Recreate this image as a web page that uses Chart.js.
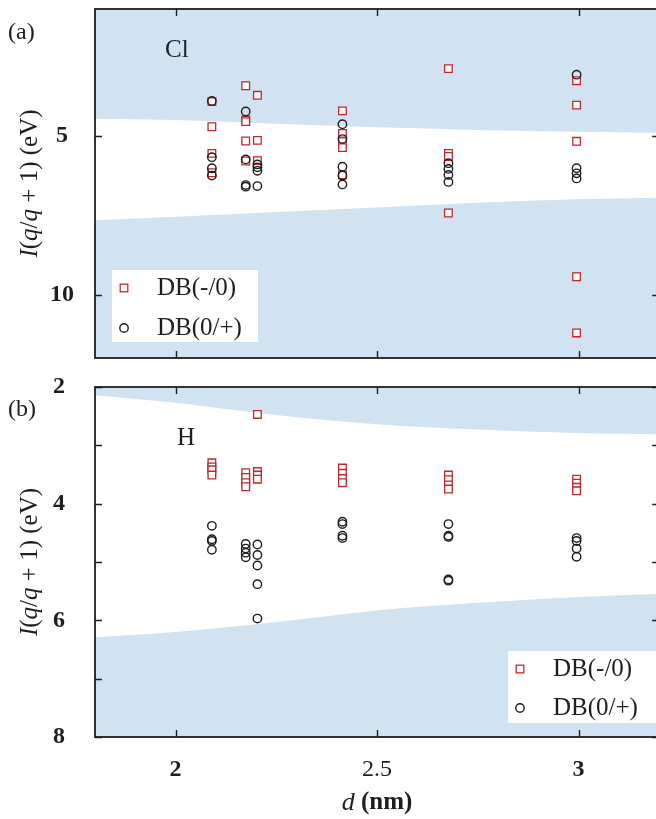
<!DOCTYPE html>
<html>
<head>
<meta charset="utf-8">
<script src="https://cdn.jsdelivr.net/npm/chart.js@4.4.1/dist/chart.umd.min.js"></script>
<style>
  html, body { margin: 0; padding: 0; background: #fff; }
  body { width: 656px; height: 819px; overflow: hidden; position: relative; }
  canvas { position: absolute; left: 0; }
  #panelA { top: 0; }
  #panelB { top: 370px; }
</style>
</head>
<body>
<canvas id="panelA" width="660" height="370"></canvas>
<canvas id="panelB" width="660" height="449"></canvas>
<script>
// wire widths (nm) of the six structures
const distances = [2.09, 2.174, 2.203, 2.414, 2.677, 2.995];

// Cl passivation: one list of levels (eV) per wire width
const clMinus0 = [
  [3.92, 4.71, 5.55, 6.16],
  [3.42, 4.50, 4.55, 5.16, 5.79],
  [3.72, 5.14, 5.78],
  [4.21, 4.92, 5.18, 5.37, 6.23],
  [2.88, 5.55, 5.65, 7.43],
  [3.26, 4.03, 5.17, 9.44, 11.21]
];
const cl0Plus = [
  [3.90, 5.67, 6.02, 6.25],
  [4.23, 5.74, 6.55, 6.60],
  [5.90, 5.99, 6.10, 6.58],
  [4.63, 5.10, 5.97, 6.25, 6.53],
  [5.86, 6.04, 6.23, 6.45],
  [3.07, 6.02, 6.18, 6.34]
];

// H passivation
const hMinus0 = [
  [3.30, 3.37, 3.42, 3.51],
  [3.47, 3.55, 3.64, 3.71],
  [2.47, 3.45, 3.51, 3.58],
  [3.39, 3.48, 3.57, 3.64],
  [3.51, 3.59, 3.68, 3.75],
  [3.58, 3.65, 3.72, 3.78]
];
const h0Plus = [
  [4.38, 4.61, 4.64, 4.79],
  [4.69, 4.77, 4.84, 4.92],
  [4.70, 4.88, 5.06, 5.38, 5.97],
  [4.31, 4.35, 4.55, 4.59],
  [4.35, 4.55, 4.57, 5.30, 5.32],
  [4.59, 4.64, 4.77, 4.91]
];

// band edges (shaded regions) vs width
const bandD = [1.8, 2.0, 2.25, 2.5, 2.75, 3.0, 3.2];
const clUpperEdge = [4.46, 4.50, 4.62, 4.73, 4.81, 4.87, 4.90];
const clLowerEdge = [7.66, 7.55, 7.40, 7.26, 7.11, 7.00, 6.95];
const hUpperEdge = [2.14, 2.27, 2.48, 2.64, 2.73, 2.79, 2.81];
const hLowerEdge = [6.29, 6.20, 6.03, 5.83, 5.70, 5.60, 5.55];

const xTicks = [2, 2.5, 3];
const clYTicks = [5, 10];
const hYTicks = [2, 3, 4, 5, 6, 7, 8];

const SERIF = '"Liberation Serif", "DejaVu Serif", serif';
const INK = '#1e1e1e';
const RED = '#c1272d';
const BAND = 'rgb(209,226,241)';

function toPoints(cols) {
  const pts = [];
  cols.forEach((col, i) => col.forEach(v => pts.push({ x: distances[i], y: v })));
  return pts;
}

function edge(vals) {
  return bandD.map((d, i) => ({ x: d, y: vals[i] }));
}

function bandSet(vals, to) {
  return {
    type: 'line',
    data: edge(vals),
    borderWidth: 0,
    pointRadius: 0,
    backgroundColor: BAND,
    fill: { value: to },
    cubicInterpolationMode: 'monotone',
    order: 3
  };
}

function markerSets(minus, plus) {
  return [
    {
      label: 'DB(0/+)',
      data: toPoints(plus),
      pointStyle: 'circle',
      pointRadius: 4.2,
      borderWidth: 1.4,
      borderColor: INK,
      backgroundColor: 'rgba(0,0,0,0)',
      order: 1
    },
    {
      label: 'DB(-/0)',
      data: toPoints(minus),
      pointStyle: 'rect',
      pointRadius: 5.4,
      borderWidth: 1.3,
      borderColor: RED,
      backgroundColor: '#fff',
      order: 2
    }
  ];
}

// inward ticks on all four sides plus the box
const framePlugin = {
  id: 'frame',
  afterDraw(chart) {
    const { ctx, chartArea: a, scales: { x, y } } = chart;
    const len = 7;
    ctx.save();
    ctx.strokeStyle = INK;
    ctx.lineWidth = 1.4;
    ctx.beginPath();
    x.ticks.forEach(t => {
      const px = Math.round(x.getPixelForValue(t.value)) + 0.5;
      ctx.moveTo(px, a.top); ctx.lineTo(px, a.top + len);
      ctx.moveTo(px, a.bottom); ctx.lineTo(px, a.bottom - len);
    });
    y.ticks.forEach(t => {
      const py = Math.round(y.getPixelForValue(t.value)) + 0.5;
      ctx.moveTo(a.left, py); ctx.lineTo(a.left + len, py);
      ctx.moveTo(a.right, py); ctx.lineTo(a.right - len, py);
    });
    ctx.stroke();
    ctx.lineWidth = 1.8;
    ctx.strokeRect(a.left, a.top, a.right - a.left, a.bottom - a.top);
    ctx.restore();
  }
};

// mixed italic / upright text, centred on (cx, cy)
function drawRich(ctx, parts, cx, cy, angle) {
  ctx.save();
  ctx.translate(cx, cy);
  ctx.rotate(angle);
  ctx.textBaseline = 'middle';
  ctx.textAlign = 'left';
  let total = 0;
  parts.forEach(p => { ctx.font = p.font; total += ctx.measureText(p.text).width; });
  let x = -total / 2;
  parts.forEach(p => {
    ctx.font = p.font;
    ctx.fillText(p.text, x, 0);
    x += ctx.measureText(p.text).width;
  });
  ctx.restore();
}

const decorPlugin = {
  id: 'decor',
  afterDraw(chart, args, opts) {
    const { ctx, chartArea: a } = chart;
    ctx.save();
    ctx.fillStyle = INK;
    ctx.textBaseline = 'middle';
    ctx.textAlign = 'left';
    ctx.font = '24px ' + SERIF;
    ctx.fillText(opts.tag, 8, opts.tagY);
    ctx.font = '25px ' + SERIF;
    ctx.fillText(opts.species, opts.speciesX, opts.speciesY);

    const it = 'italic 25px ' + SERIF;
    const rm = '25px ' + SERIF;
    drawRich(ctx, [
      { text: 'I', font: it }, { text: '(', font: rm }, { text: 'q', font: it },
      { text: '/', font: rm }, { text: 'q', font: it }, { text: ' + 1) (eV)', font: rm }
    ], 30, (a.top + a.bottom) / 2, -Math.PI / 2);

    if (opts.xTitleY) {
      drawRich(ctx, [
        { text: 'd', font: 'italic 26px ' + SERIF }, { text: ' (nm)', font: 'bold 25px ' + SERIF }
      ], (a.left + a.right) / 2, opts.xTitleY, 0);
    }

    // legend box
    const lg = opts.legend;
    ctx.fillStyle = '#fff';
    ctx.fillRect(lg.x, lg.y, lg.w, lg.h);
    const mx = lg.x + 12;
    const tx = lg.x + 45;
    ctx.lineWidth = 1.3;
    ctx.strokeStyle = RED;
    ctx.strokeRect(mx - 3.8, lg.rows[0] - 3.8, 7.6, 7.6);
    ctx.lineWidth = 1.4;
    ctx.strokeStyle = INK;
    ctx.beginPath();
    ctx.arc(mx, lg.rows[1], 4.2, 0, Math.PI * 2);
    ctx.stroke();
    ctx.fillStyle = INK;
    ctx.font = '25px ' + SERIF;
    ctx.fillText('DB(-/0)', tx, lg.rows[0]);
    ctx.fillText('DB(0/+)', tx, lg.rows[1]);
    ctx.restore();
  }
};

function tickFont(c) {
  const v = c.tick ? c.tick.value : 0;
  return { family: SERIF, size: 24, weight: Number.isInteger(v) ? 'bold' : 'normal' };
}

function makeChart(id, cfg) {
  return new Chart(document.getElementById(id), {
    type: 'scatter',
    data: {
      datasets: [
        ...markerSets(cfg.minus, cfg.plus),
        bandSet(cfg.upper, cfg.yMin),
        bandSet(cfg.lower, cfg.yMax)
      ]
    },
    options: {
      responsive: false,
      animation: false,
      events: [],
      layout: { autoPadding: false, padding: { top: cfg.padTop, right: 0.8, left: 0, bottom: 0 } },
      scales: {
        x: {
          type: 'linear',
          min: 1.8,
          max: 3.2,
          afterBuildTicks: s => { s.ticks = xTicks.map(v => ({ value: v })); },
          afterFit: s => { s.height = cfg.xHeight; s.paddingLeft = 0; s.paddingRight = 0; },
          grid: { display: false, drawTicks: false },
          border: { display: false },
          ticks: {
            display: cfg.showX,
            padding: 18,
            color: INK,
            font: tickFont,
            callback: v => String(v)
          }
        },
        y: {
          type: 'linear',
          min: cfg.yMin,
          max: cfg.yMax,
          reverse: true,
          afterBuildTicks: s => { s.ticks = cfg.yTicks.map(v => ({ value: v })); },
          afterFit: s => { s.width = 95; s.paddingTop = 0; s.paddingBottom = 0; },
          grid: { display: false, drawTicks: false },
          border: { display: false },
          ticks: {
            crossAlign: 'center',
            padding: cfg.yPad,
            color: INK,
            font: tickFont,
            callback: v => (cfg.yLabelStep && v % cfg.yLabelStep !== 0) ? '' : String(v)
          }
        }
      },
      plugins: {
        legend: { display: false },
        tooltip: { enabled: false },
        decor: cfg.decor
      }
    },
    plugins: [framePlugin, decorPlugin]
  });
}

makeChart('panelA', {
  minus: clMinus0, plus: cl0Plus,
  upper: clUpperEdge, lower: clLowerEdge,
  yMin: 1, yMax: 12, yTicks: clYTicks, yPad: 21,
  padTop: 9, xHeight: 12, showX: false,
  decor: {
    tag: '(a)', tagY: 33,
    species: 'Cl', speciesX: 165, speciesY: 50,
    legend: { x: 112, y: 270, w: 146, h: 72, rows: [288, 328] }
  }
});

makeChart('panelB', {
  minus: hMinus0, plus: h0Plus,
  upper: hUpperEdge, lower: hLowerEdge,
  yMin: 2, yMax: 8, yTicks: hYTicks, yPad: 30, yLabelStep: 2,
  padTop: 17, xHeight: 82, showX: true,
  decor: {
    tag: '(b)', tagY: 40,
    species: 'H', speciesX: 177, speciesY: 68,
    xTitleY: 433,
    legend: { x: 508, y: 281, w: 152, h: 72, rows: [299, 338] }
  }
});
</script>
</body>
</html>
